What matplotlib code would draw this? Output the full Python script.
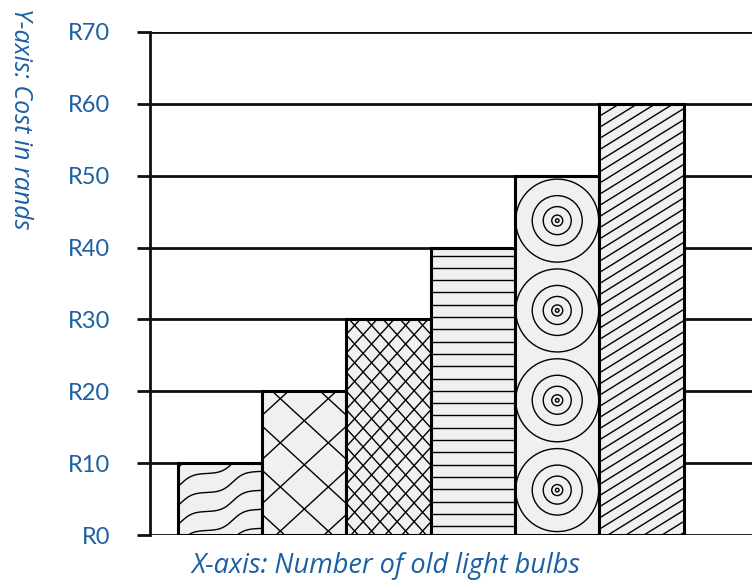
import numpy as np
import matplotlib
matplotlib.use("Agg")
import matplotlib.pyplot as plt
from matplotlib.lines import Line2D
from matplotlib.patches import Circle
from matplotlib.transforms import IdentityTransform

# data
bulbs = [1, 2, 3, 4, 5, 6]
cost = [10, 20, 30, 40, 50, 60]
yticks = [0, 10, 20, 30, 40, 50, 60, 70]
ytick_labels = [f"R{v}" for v in yticks]

BLUE = "#1b5fa5"
FILL = "#f0f0f0"
plt.rcParams["font.family"] = ["Lato", "DejaVu Sans"]

W, H = 752, 582
fig = plt.figure(figsize=(W / 100, H / 100), dpi=100)
ax = fig.add_axes([150 / W, 1 - 535 / H, 1 - 150 / W, (535 - 32) / H])
ax.set_xlim(0.17, 7.31)
ax.set_ylim(0, 70)

bars = ax.bar(bulbs, cost, width=1.0, color=FILL, edgecolor="black",
              linewidth=2.2, zorder=3)

# axes styling
for s in ["top", "right", "bottom"]:
    ax.spines[s].set_visible(False)
ax.spines["left"].set_linewidth(2.0)
ax.spines["left"].set_color("#111111")
ax.set_axisbelow(True)
ax.yaxis.grid(True, color="#111111", lw=2.0)
ax.set_yticks(yticks)
ax.set_yticklabels(ytick_labels, color=BLUE, fontsize=17)
ax.tick_params(axis="y", length=9.5, width=2.0, color="#111111", pad=19)
ax.set_xticks([])

lab = dict(color=BLUE, style="italic", ha="center", va="center",
           family=["Open Sans", "DejaVu Sans"])
fig.text(386 / W, 1 - 566 / H, "X-axis: Number of old light bulbs",
         fontsize=19.5, **lab)
fig.text(20 / W, 1 - 119 / H, "Y-axis: Cost in rands", rotation=270,
         fontsize=18, **lab)

fig.canvas.draw()
ID = IdentityTransform()


def box(b):
    (l, bot), (r, top) = ax.transData.transform(
        [(b.get_x(), 0), (b.get_x() + b.get_width(), b.get_height())])
    return l, bot, r, top


def pline(b, xs, ys, lw=1.0):
    ln = Line2D(xs, ys, transform=ID, color="black", lw=lw, zorder=4)
    ax.add_line(ln)
    ln.set_clip_path(b)


def cross(b, dx, m, y_off):
    # two families of parallel lines through a lattice of points
    l, bot, r, top = box(b)
    cx = (l + r) / 2
    xs = np.array([l - 5, r + 5])
    dy = 2 * dx * m
    n = int((top - bot) / dy) + 4
    for k in range(-3, n):
        y0 = bot + y_off + dy * k
        pline(b, xs, y0 + m * (xs - cx))
        pline(b, xs, y0 - m * (xs - cx))


# bar 1: wavy lines
b = bars[0]
l, bot, r, top = box(b)
xs = np.linspace(l, r, 300)
P, h, a = 52.0, 21.0, 4.5
t = (xs - l - 3) / P + 0.5
frac = t % 1
step = (np.tanh(a * (frac - 0.5)) / np.tanh(a / 2) + 1) / 2
f = h * (np.floor(t) + step - 0.5)
for k in range(-4, 6):
    pline(b, xs, bot + 32 + 19 * k + f)

# bar 2: large diamonds
cross(bars[1], 24, 0.92, 26)

# bar 3: fine diamonds
cross(bars[2], 8.5, 1.1, 4)

# bar 4: horizontal lines
b = bars[3]
l, bot, r, top = box(b)
y = top - 8
while y > bot:
    pline(b, [l, r], [y, y])
    y -= 12.3

# bar 5: concentric circles
b = bars[4]
l, bot, r, top = box(b)
cx = (l + r) / 2
unit = (top - bot) / 4
for k in range(4):
    cy = bot + (k + 0.5) * unit
    for rad in [41.5, 25, 14, 5.5, 1.8]:
        c = Circle((cx, cy), rad, transform=ID, fill=False,
                   edgecolor="black", lw=1.0, zorder=4)
        ax.add_patch(c)
        c.set_clip_path(b)

# bar 6: diagonal lines
b = bars[5]
l, bot, r, top = box(b)
slope = 0.62
xs = np.array([l - 5, r + 5])
for k in range(-10, 60):
    x0 = l + 18 * k
    pline(b, xs, top + slope * (xs - x0) - 20 * slope)

fig.savefig("out.png", dpi=100)
